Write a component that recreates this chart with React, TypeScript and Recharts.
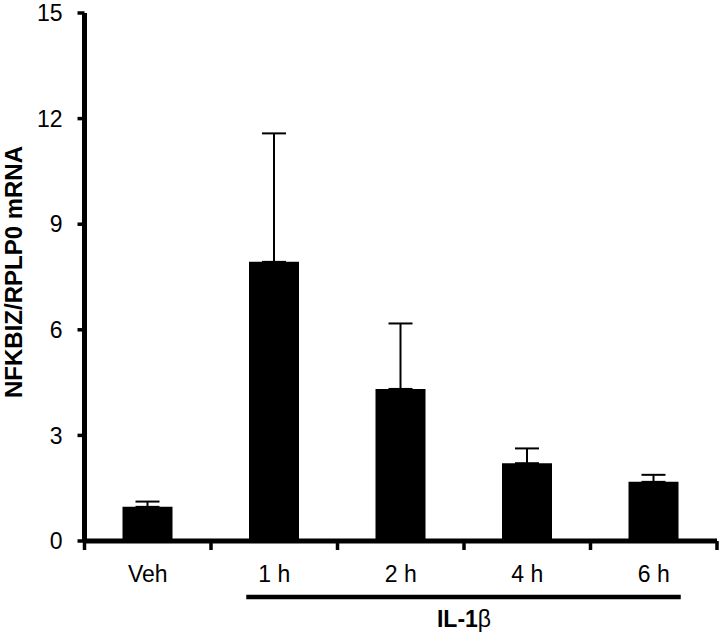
import React from 'react';
import { BarChart, Bar, XAxis, YAxis, ErrorBar } from 'recharts';

const categories = ['Veh', '1 h', '2 h', '4 h', '6 h'];
const means = [0.97, 7.93, 4.32, 2.21, 1.68];
const sems = [0.15, 3.65, 1.86, 0.42, 0.2];
const yTicks = [0, 3, 6, 9, 12, 15];
const groupLabel = 'IL-1';
const groupStart = 1; // first category under the IL-1β bracket

const W = 721;
const H = 635;
const M = { top: 13, right: 4, left: 0, bottom: 0 };
const Y_AXIS_W = 84.5;
const STEP = (W - M.left - M.right - Y_AXIS_W) / categories.length;
const BAR = 50;
const FONT = '"Liberation Sans", Arial, sans-serif';

const data = categories.map((name, i) => ({
  name,
  value: means[i],
  err: [0, sems[i]],
}));

// x tick: label at the centre, tick marks on the category boundaries,
// plus the IL-1β bracket drawn from the first treated category
function XTick(props: any) {
  const { x, y, payload, index } = props;
  const last = categories.length - 1;
  return (
    <g>
      <line x1={x - STEP / 2} x2={x - STEP / 2} y1={y} y2={y + 9} stroke="#000" strokeWidth={3.5} />
      {index === last && (
        <line x1={x + STEP / 2} x2={x + STEP / 2} y1={y} y2={y + 9} stroke="#000" strokeWidth={3.5} />
      )}
      <text x={x} y={y + 41} textAnchor="middle" fontSize={23} fontFamily={FONT} fill="#000">
        {payload.value}
      </text>
      {index === groupStart && (
        <g>
          <line
            x1={x - BAR / 2 - 3}
            x2={x + (last - groupStart) * STEP + BAR / 2 + 2}
            y1={y + 56}
            y2={y + 56}
            stroke="#000"
            strokeWidth={4.5}
          />
          <text
            x={x + ((last - groupStart) * STEP) / 2}
            y={y + 86}
            textAnchor="middle"
            fontSize={23}
            fontFamily={FONT}
            fill="#000"
          >
            <tspan fontWeight="bold">{groupLabel}</tspan>
            <tspan>β</tspan>
          </text>
        </g>
      )}
    </g>
  );
}

function YTitle() {
  const cx = 13;
  const cy = 272;
  return (
    <text
      x={cx}
      y={cy}
      transform={`rotate(-90, ${cx}, ${cy})`}
      textAnchor="middle"
      dominantBaseline="central"
      fontSize={24}
      fontWeight="bold"
      fontFamily={FONT}
      fill="#000"
    >
      NFKBIZ/RPLP0 mRNA
    </text>
  );
}

export default function App() {
  return (
    <div style={{ position: 'absolute', left: 0, top: 0, width: W, height: H, background: '#fff' }}>
      <BarChart width={W} height={H} data={data} margin={M} barSize={BAR}>
        <XAxis
          dataKey="name"
          height={94}
          axisLine={{ stroke: '#000', strokeWidth: 5 }}
          tickLine={false}
          tickSize={0}
          tickMargin={0}
          tick={<XTick />}
          interval={0}
        />
        <YAxis
          width={Y_AXIS_W}
          domain={[0, 15]}
          ticks={yTicks}
          interval={0}
          axisLine={{ stroke: '#000', strokeWidth: 5 }}
          tickLine={{ stroke: '#000', strokeWidth: 3.5 }}
          tickSize={7}
          tickMargin={15}
          tick={{ fill: '#000', fontSize: 23, fontFamily: FONT }}
          label={<YTitle />}
        />
        <Bar dataKey="value" fill="#000" isAnimationActive={false}>
          <ErrorBar dataKey="err" direction="y" width={12} strokeWidth={2} stroke="#000" />
        </Bar>
      </BarChart>
    </div>
  );
}
